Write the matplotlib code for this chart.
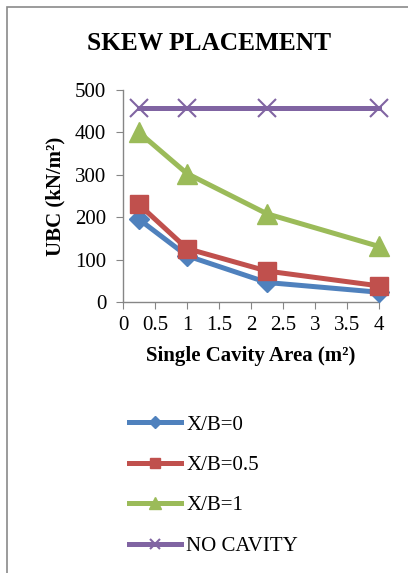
import matplotlib
matplotlib.use('Agg')
import matplotlib.pyplot as plt
from matplotlib.patches import Rectangle
from matplotlib.ticker import FuncFormatter
import numpy as np

plt.rcParams['font.family'] = ['Liberation Serif', 'DejaVu Serif']

# Single cavity area (m^2) and UBC values (kN/m^2)
area = [0.25, 1, 2.25, 4]
xb_0 = [195, 109, 46, 23]
xb_05 = [230, 126, 73, 38]
xb_1 = [400, 303, 208, 131]
no_cavity = [457, 457, 457, 457]

series_labels = ['X/B=0', 'X/B=0.5', 'X/B=1', 'NO CAVITY']
x_ticks = np.arange(0, 4.01, 0.5)
y_ticks = [0, 100, 200, 300, 400, 500]

W, H = 408, 573
fig = plt.figure(figsize=(W / 100, H / 100), dpi=100)

# outer chart border (only the top and left edges are visible)
fig.patches.append(Rectangle((7 / W, -0.5), 2.0, 0.5 + (H - 7) / H,
                             transform=fig.transFigure, fill=False,
                             edgecolor='#8a8a8a', lw=1.2))

ax = fig.add_axes([123 / W, (H - 302) / H, 256 / W, 212 / H])

lw = 3.6
ax.plot(area, xb_0, color='#4F81BD', lw=lw, marker='D', ms=10,
        label=series_labels[0], clip_on=False, zorder=3)
ax.plot(area, xb_05, color='#C0504D', lw=lw, marker='s', ms=13,
        label=series_labels[1], clip_on=False, zorder=3)
ax.plot(area, xb_1, color='#9BBB59', lw=lw, marker='^', ms=14,
        label=series_labels[2], clip_on=False, zorder=3)
ax.plot(area, no_cavity, color='#8064A2', lw=lw, marker='x', ms=13,
        mew=1.5, label=series_labels[3], clip_on=False, zorder=3)

ax.set_xlim(0, 4)
ax.set_ylim(0, 500)
ax.set_xticks(x_ticks)
ax.set_yticks(y_ticks)
ax.xaxis.set_major_formatter(FuncFormatter(lambda v, p: f'{v:g}'))

for s in ['top', 'right']:
    ax.spines[s].set_visible(False)
for s in ['left', 'bottom']:
    ax.spines[s].set_color('#868686')
    ax.spines[s].set_linewidth(1.0)
ax.tick_params(direction='out', length=5, color='#868686', labelsize=15)
ax.tick_params(axis='y', pad=7)
ax.tick_params(axis='x', pad=5)

ax.set_ylabel('UBC (kN/m²)', fontsize=15, fontweight='bold', labelpad=7)
ax.set_xlabel('Single Cavity Area (m²)', fontsize=15, fontweight='bold',
              labelpad=8)

fig.text(209 / W, 1 - 43 / H, 'SKEW PLACEMENT', fontsize=18.3,
         fontweight='bold', ha='center', va='center')

ax.legend(loc='upper left', bbox_to_anchor=(129 / W, 1 - 415 / H),
          bbox_transform=fig.transFigure, frameon=False, fontsize=15,
          handlelength=2.5, handletextpad=0.25, labelspacing=1.0,
          markerscale=0.6, borderpad=0, borderaxespad=0)

fig.savefig('out.png', dpi=100)
